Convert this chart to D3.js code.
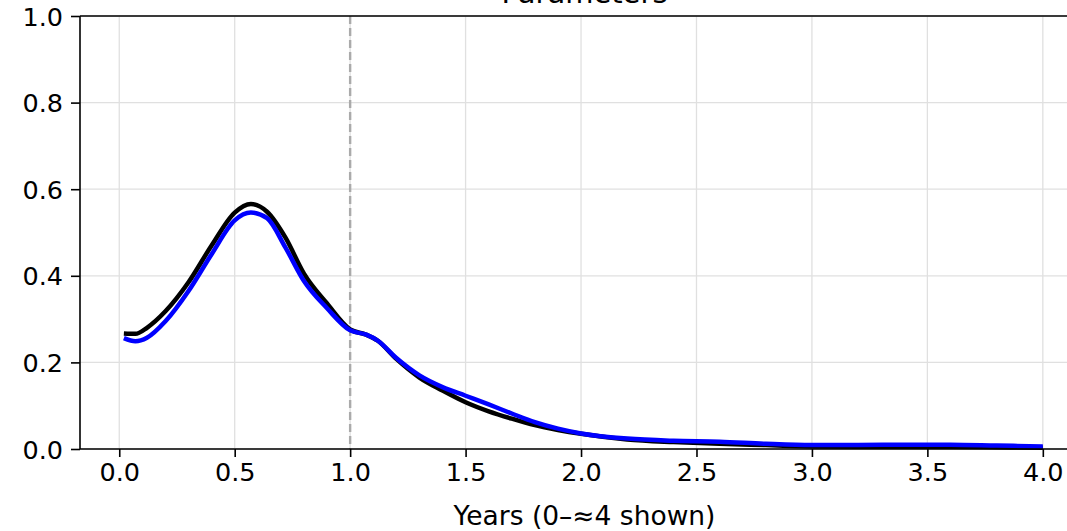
<!DOCTYPE html>
<html><head><meta charset="utf-8">
<script src="https://cdn.jsdelivr.net/npm/d3@7"></script>
<style>body{margin:0;background:#fff}svg{display:block}text{font-family:"DejaVu Sans",sans-serif;fill:#000}</style>
</head><body><svg id="c" width="1067" height="531"></svg>
<script>
const years = [0.02,0.07,0.12,0.2,0.3,0.4,0.5,0.57,0.64,0.72,0.8,0.9,1.0,1.07,1.12,1.2,1.3,1.4,1.5,1.6,1.7,1.8,1.9,2.0,2.2,2.4,2.6,2.8,3.0,3.2,3.4,3.6,3.8,4.0];
const blackSeries = [0.267,0.266,0.28,0.318,0.385,0.47,0.546,0.566,0.548,0.488,0.405,0.336,0.276,0.264,0.25,0.208,0.165,0.135,0.108,0.087,0.07,0.055,0.044,0.035,0.022,0.016,0.012,0.009,0.006,0.005,0.005,0.005,0.004,0.003];
const blueSeries = [0.256,0.249,0.257,0.295,0.365,0.45,0.528,0.546,0.533,0.465,0.388,0.325,0.274,0.264,0.25,0.21,0.17,0.143,0.123,0.103,0.082,0.062,0.047,0.036,0.024,0.019,0.017,0.012,0.009,0.009,0.010,0.010,0.008,0.006];
const xTicks = [0,0.5,1,1.5,2,2.5,3,3.5,4];
const yTicks = [0,0.2,0.4,0.6,0.8,1.0];
const refLine = 1.0;
const title = "Parameters";
const xLabel = "Years (0–≈4 shown)";

const svg = d3.select("#c");
const L=80, R=1089, T=16, B=449;
const x = d3.scaleLinear().domain([-0.17,4.2]).range([L,R]);
const y = d3.scaleLinear().domain([0,1]).range([B,T]);

// grid
svg.append("g").selectAll("line").data(xTicks).join("line")
  .attr("x1",d=>x(d)).attr("x2",d=>x(d)).attr("y1",T).attr("y2",B)
  .attr("stroke","#e0e0e0").attr("stroke-width",1.3);
svg.append("g").selectAll("line").data(yTicks).join("line")
  .attr("x1",L).attr("x2",R).attr("y1",d=>y(d)).attr("y2",d=>y(d))
  .attr("stroke","#e0e0e0").attr("stroke-width",1.3);

// reference line
svg.append("line").attr("x1",x(refLine)).attr("x2",x(refLine)).attr("y1",T).attr("y2",B)
  .attr("stroke","#aaaaaa").attr("stroke-width",2.4).attr("stroke-dasharray","8,4");

const line = (vals)=>d3.line().x((d,i)=>x(years[i])).y(d=>y(d)).curve(d3.curveMonotoneX)(vals);
svg.append("path").attr("d",line(blackSeries)).attr("fill","none").attr("stroke","#000").attr("stroke-width",4.5).attr("stroke-linejoin","round");
svg.append("path").attr("d",line(blueSeries)).attr("fill","none").attr("stroke","#0000ff").attr("stroke-width",4.5).attr("stroke-linejoin","round");

// axes
const xa = svg.append("g").attr("transform",`translate(0,${B})`)
  .call(d3.axisBottom(x).tickValues(xTicks).tickFormat(d3.format(".1f")).tickSize(8).tickPadding(6));
const ya = svg.append("g").attr("transform",`translate(${L},0)`)
  .call(d3.axisLeft(y).tickValues(yTicks).tickFormat(d3.format(".1f")).tickSize(9).tickPadding(8));
[xa,ya].forEach(g=>{
  g.attr("font-size",null).attr("font-family",null);
  g.select(".domain").remove();
  g.selectAll(".tick line").attr("stroke","#000").attr("stroke-width",1.6);
  g.selectAll("text").style("font-size","25.5px").style("font-family","'DejaVu Sans'").attr("fill","#000");
});
ya.selectAll("text").attr("dy","0.36em");
// spines
svg.append("line").attr("x1",L).attr("x2",L).attr("y1",T).attr("y2",B).attr("stroke","#000").attr("stroke-width",1.6);
svg.append("line").attr("x1",L).attr("x2",R).attr("y1",B).attr("y2",B).attr("stroke","#000").attr("stroke-width",1.6);
svg.append("line").attr("x1",L).attr("x2",R).attr("y1",T).attr("y2",T).attr("stroke","#000").attr("stroke-width",1.6);

svg.append("text").attr("x",(L+R)/2).attr("y",525).attr("text-anchor","middle").style("font-size","26.5px").text(xLabel);
svg.append("text").attr("x",(L+R)/2).attr("y",3).attr("text-anchor","middle").style("font-size","29px").text(title);
</script></body></html>
